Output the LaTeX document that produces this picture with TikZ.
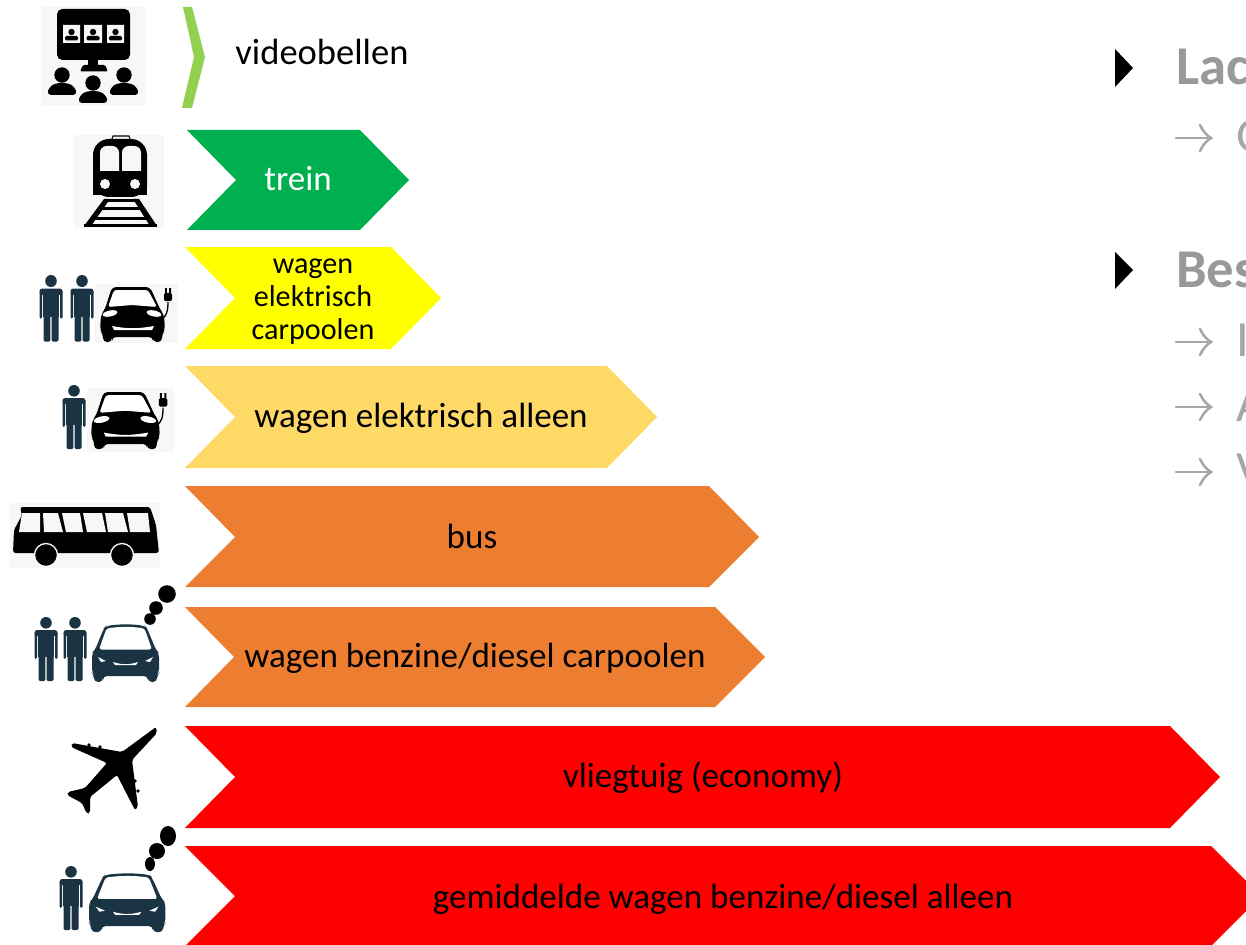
\documentclass[tikz,border=0pt]{standalone}
\usepackage{fontspec}
\setmainfont{Carlito}
\definecolor{ink}{HTML}{1B3444}
\definecolor{iconbg}{HTML}{F7F7F7}
\definecolor{cgreen}{HTML}{00B050}
\definecolor{clime}{HTML}{92D050}
\definecolor{cyellow}{HTML}{FFFF00}
\definecolor{cgold}{HTML}{FFD966}
\definecolor{corange}{HTML}{ED7D31}
\definecolor{cred}{HTML}{FF0000}
\definecolor{greybold}{HTML}{999999}
\definecolor{greythin}{HTML}{A6A6A6}
\tikzset{
  x=0.75pt,y=-0.75pt,
  lab/.style={anchor=base,inner sep=0pt,font=\fontsize{26.3}{24.75}\selectfont,text=black},
  labbig/.style={lab,font=\fontsize{27.4}{24.75}\selectfont},
  labsmall/.style={lab,font=\fontsize{22.6}{24.75}\selectfont},
  headtxt/.style={anchor=base west,inner sep=0pt,font=\fontsize{41}{41}\selectfont\bfseries,text=greybold},
  subtxt/.style={anchor=base west,inner sep=0pt,font=\fontsize{38}{38}\selectfont,text=greythin},
  tri/.style={fill=black},
  man/.pic={
    \fill[ink] (0,5.8) circle (5.8);
    \fill[ink,rounded corners=2] (-11.5,13) rectangle (11.5,19);
    \fill[ink,rounded corners=1] (-11.5,15) rectangle (-9,42);
    \fill[ink,rounded corners=1] (9,15) rectangle (11.5,42);
    \fill[ink] (-7.8,14) rectangle (7.8,40);
    \fill[ink,rounded corners=1] (-7.5,38) rectangle (-0.6,64);
    \fill[ink,rounded corners=1] (0.6,38) rectangle (7.5,64);
  },
  elcar/.pic={
    \fill[black,rounded corners=3] (12,0)--(50,0)--(60,22)--(64,28)--(65,43)--(62,47)--(62,55)--(53,55)--(53,50)--(12,50)--(12,55)--(3,55)--(3,47)--(0,43)--(1,28)--(5,22)--cycle;
    \fill[white,rounded corners=2] (14,3)--(48,3)--(57,20)--(32,18)--(8,20)--cycle;
    \fill[white,rotate around={12:(10,26.5)}] (10,26.5) ellipse (7.5 and 3);
    \fill[white,rotate around={-12:(54,26.5)}] (54,26.5) ellipse (7.5 and 3);
    \fill[white] (12,39) .. controls (28,42) and (37,42) .. (54,39) -- (52,43) -- (14,43) -- cycle;
    \draw[black,line width=1pt] (63,31) .. controls (66,29) and (68,25) .. (68,15);
    \fill[black,rounded corners=1] (64,6) rectangle (72,14);
    \fill[black] (65,1) rectangle (66.8,6) (69.2,1) rectangle (71,6);
  },
  smokecar/.pic={
    \fill[ink,rounded corners=3] (3,25)--(12,3)--(14,1) .. controls (28,-1) and (40,-1) .. (53,1) -- (55,3)--(64,25)--(67,28)--(67,48)--(65,50)--(65,57)--(56,57)--(56,51)--(11,51)--(11,57)--(2,57)--(2,50)--(0,48)--(0,28)--cycle;
    \fill[white,rounded corners=2] (14.5,3.5) .. controls (28,1.5) and (40,1.5) .. (52.5,3.5) -- (60,24.5) -- (7,24.5) -- cycle;
    \fill[white] (6,32)--(14,36)--(9,37)--cycle (61,32)--(53,36)--(58,37)--cycle;
    \fill[white] (21,37) .. controls (30,40) and (37,40) .. (46,37) -- (44,40) -- (23,40) -- cycle;
  },
  thinarrow/.pic={
    \draw[greythin,line width=1.9pt,line cap=round] (0,0)--(34,0);
    \draw[greythin,line width=1.9pt,line cap=round] (24,-13) .. controls (27,-7) and (30,-3) .. (35,0) .. controls (30,3) and (27,7) .. (24,13);
  },
}
\begin{document}
\begin{tikzpicture}
\useasboundingbox (0,0) rectangle (1246,945);
\clip (0,0) rectangle (1246,945);
\fill[white] (0,0) rectangle (1246,945);

% chevrons
\fill[clime] (183,7)--(192,7)--(205,57)--(192,108)--(182,108)--(194,57)--cycle;
\fill[cgreen] (187,130)--(360,130)--(409,180)--(360,230)--(187,230)--(236,180)--cycle;
\fill[cyellow] (185,247)--(391,247)--(441,298)--(391,349)--(185,349)--(235,298)--cycle;
\fill[cgold] (185,366)--(607,366)--(657,417)--(607,468)--(185,468)--(235,417)--cycle;
\fill[corange] (185,486)--(709,486)--(759,537)--(709,587)--(185,587)--(235,537)--cycle;
\fill[corange] (185,607)--(715,607)--(765,657)--(715,707)--(185,707)--(234,657)--cycle;
\fill[cred] (185,726)--(1170,726)--(1220,777)--(1170,828)--(185,828)--(235,777)--cycle;
\fill[cred] (185,846)--(1211,846)--(1261,896)--(1211,946)--(185,946)--(235,896)--cycle;

% chevron labels
\node[labbig] (lvideo) at (322,65) {videobellen};
\node[lab,text=white] (ltrein) at (298,191) {trein};
\node[labsmall,align=center,anchor=center] (lcarpel) at (313,301.5) {wagen\\elektrisch\\carpoolen};
\node[lab] (lelalone) at (421,427) {wagen elektrisch alleen};
\node[lab] (lbus) at (472,548) {bus};
\node[lab] (lbcarpool) at (475,667) {wagen benzine/diesel carpoolen};
\node[lab] (lplane) at (703,787) {vliegtuig (economy)};
\node[lab] (lavg) at (723,908) {gemiddelde wagen benzine/diesel alleen};

% icon backgrounds
\fill[iconbg] (41,7) rectangle (145,105);
\fill[iconbg] (74,135) rectangle (164,228);
\fill[iconbg] (95,284) rectangle (178,343);
\fill[iconbg] (87,388) rectangle (174,452);
\fill[iconbg] (10,503) rectangle (160,568);

% video call icon
\fill[black,rounded corners=4] (57,9) rectangle (130,60);
\fill[iconbg] (63,25) rectangle (80,43) (84,25) rectangle (102,43) (107,25) rectangle (124,43);
\foreach \sx in {71.5,93,115.5}{
  \fill[black] (\sx,32) circle (3.2);
  \fill[black,rounded corners=1] (\sx-6.5,40.5) rectangle (\sx+6.5,36);
}
\fill[black] (88,60) rectangle (98,66);
\fill[black,rounded corners=1] (80,71.5)--(83,65)--(105,65)--(108,71.5)--cycle;
\foreach \px/\py in {62/75,93/83,124/75}{
  \fill[black] (\px,\py) circle (7.7);
  \fill[black,rounded corners=3] (\px-15,\py+20)--(\px-13,\py+12)--(\px-6,\py+8)--(\px+6,\py+8)--(\px+13,\py+12)--(\px+15,\py+20)--cycle;
}

% train icon
\draw[black,line width=0.8pt,fill=iconbg] (112,139) -- (113,136) -- (129,136) -- (130,139);
\fill[black,rounded corners=12] (93,139) -- (147,139) -- (147,170) -- (147,197) -- (93,197) -- cycle;
\fill[black] (93,170) rectangle (147,195);
\fill[iconbg,rounded corners=5] (100,146) -- (119,146) -- (119,171) -- (100,171) -- cycle;
\fill[iconbg,rounded corners=5] (122,146) -- (141,146) -- (141,171) -- (122,171) -- cycle;
\fill[iconbg] (100,164) rectangle (119,171) (122,164) rectangle (141,171);
\fill[iconbg] (105,184) circle (5) (135,184) circle (5);
\fill[black] (104,199)--(110,199)--(91,226)--(84,226)--cycle;
\fill[black] (133,199)--(139,199)--(157,226)--(150,226)--cycle;
\fill[black] (104,199) rectangle (139,202);
\fill[black] (100,207) rectangle (143,210);
\fill[black] (93,217) rectangle (150,220);
\fill[black] (84,224) rectangle (157,227);

% carpool electric
\pic at (51,275) [yscale=1.04] {man};
\pic at (82,275) [yscale=1.04] {man};
\pic at (100,287) {elcar};
% alone electric
\pic at (74,385) {man};
\pic at (91,392) [xscale=1.06,yscale=1.04] {elcar};

% bus
\fill[black,rounded corners=2] (20,507)--(150,507)--(156,525)--(159,553)--(13,553)--(14,530)--(22,515)--cycle;
\fill[iconbg] (22,513)--(40,513)--(40,532)--(19,532)--cycle;
\fill[iconbg] (43,513)--(58,513)--(63,532)--(44,532)--cycle;
\fill[iconbg] (62,513)--(80,513)--(83,532)--(66,532)--cycle;
\fill[iconbg] (83,513)--(102,513)--(106,532)--(87,532)--cycle;
\fill[iconbg] (105,513)--(123,513)--(128,532)--(108,532)--cycle;
\fill[iconbg] (127,513)--(148,513)--(150,532)--(130,532)--cycle;
\fill[black,draw=iconbg,line width=1pt] (46,555) circle (11.5) (122,555) circle (11.5);

% carpool petrol
\pic at (46,617) {man};
\pic at (75,617) {man};
\pic at (92,625) {smokecar};
\fill[black] (150,619) circle (5.8) (156,608) circle (6.8) (167,594) circle (8.8);

% plane
\fill[black,rounded corners=1.5] (156,727)--(122,752)--(72,743)--(71,747)--(107,763)--(85,788)--(68,792)--(67,795)--(82,803)--(87,814)--(90,813)--(90,797)--(117,775)--(135,810)--(138,807)--(132,760)--(157,733)--cycle;
\fill[black] (89,745) circle (1.8) (100,747) circle (1.8) (135,781) circle (1.8) (138,791) circle (1.8);

% single petrol
\pic at (71,866) {man};
\pic at (89,874) [xscale=1.14,yscale=1.02] {smokecar};
\fill[black] (150,864) ellipse (5 and 7) (157,851) circle (8) (168,836) ellipse (8 and 10);

% right column
\fill[tri] (1115,49)--(1133,68)--(1115,87)--cycle;
\fill[tri] (1115,252)--(1133,270)--(1115,289)--cycle;
\node[headtxt] (h1) at (1176,85) {Lac};
\node[headtxt] (h2) at (1176,287) {Bes};
\pic at (1176,138) {thinarrow};
\pic at (1176,342) {thinarrow};
\pic at (1176,407) {thinarrow};
\pic at (1176,472) {thinarrow};
\node[subtxt] (s1) at (1236,153) {G};
\node[subtxt] (s2) at (1236,356) {I};
\node[subtxt] (s3) at (1236,421) {A};
\node[subtxt] (s4) at (1236,486) {V};
\end{tikzpicture}
\end{document}
